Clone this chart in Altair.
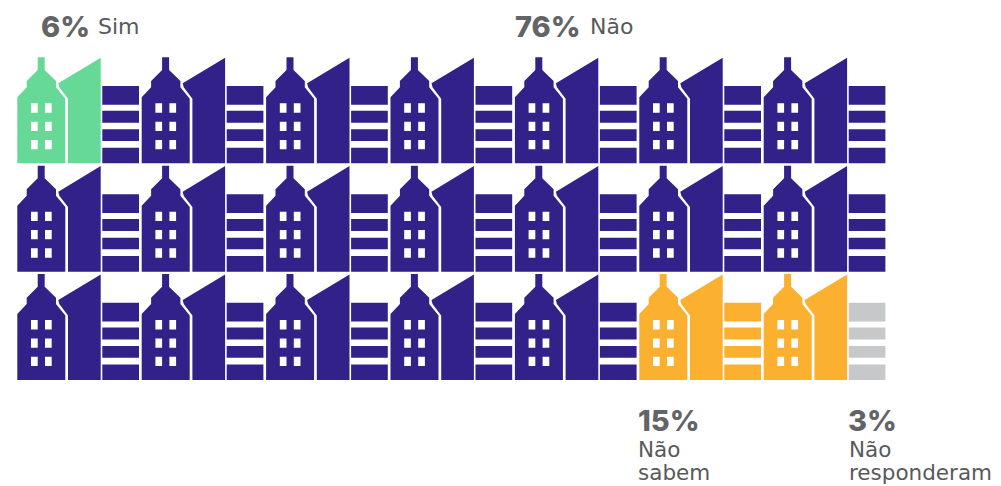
import altair as alt
import pandas as pd

# ---- data ----
categories = ["Sim", "Não", "Não sabem", "Não responderam"]
piece_counts = [2, 55, 5, 1]          # building pieces per answer, in reading order
colors = ["#66D997", "#33218A", "#FBB030", "#C7C8CA"]
parts = ["casa", "torre", "faixas"]
n_rows = 3
n_cols = 7

labels_big = ["6%", "76%", "15%", "3%"]
labels_small = [["Sim"], ["Não"], ["Não", "sabem"], ["Não", "responderam"]]

# ---- glyph outlines (icon-local pixels, centred on the icon) ----
CX, CY = 60.9, 53.0


def poly(points):
    return "M" + "L".join(f"{x - CX:.2f},{y - CY:.2f}" for x, y in points) + "Z"


def rect(x0, y0, x1, y1):
    # counter-clockwise, so that inside an outline it makes a hole
    return poly([(x0, y0), (x0, y1), (x1, y1), (x1, y0)])


house = poly([(0, 106), (0, 40), (9.4, 30), (9.4, 23.7), (20.4, 12.7), (20.4, 0), (27.4, 0),
              (27.4, 12.7), (38.7, 23.7), (38.7, 30), (48, 41.4), (48, 106)])
for wy0, wy1 in [(46, 55.4), (64.4, 73.7), (82.7, 92)]:
    for wx0, wx1 in [(13.7, 20.4), (27.7, 34.4)]:
        house += rect(wx0, wy0, wx1, wy1)
tower = poly([(50.7, 106), (50.7, 41.4), (42, 30), (41, 26), (83.4, 0.4), (83.4, 106)])
stripes = "".join(rect(85, a, 121.7, b) for a, b in
                  [(28.7, 47.4), (53.4, 65.4), (72, 83.7), (90.4, 106)])
glyphs = [house, tower, stripes]

# ---- table ----
sequence = [c for c, n in zip(categories, piece_counts) for _ in range(n)]
rows = []
for i, cat in enumerate(sequence):
    r, rest = divmod(i, n_cols * len(parts))
    c, p = divmod(rest, len(parts))
    rows.append({"row": r, "col": c, "part": parts[p], "cat": cat})
df = pd.DataFrame(rows)

W, H = 985, 478
COL_STEP, ROW_STEP = 124.4, 108.35
X0, Y0 = 70.2, 102.3

icons = alt.Chart(df).mark_point(filled=True, opacity=1, size=4, strokeWidth=0).encode(
    x=alt.X("col:Q", axis=None,
            scale=alt.Scale(domain=[-X0 / COL_STEP, (W - X0) / COL_STEP], range=[0, W], nice=False, zero=False)),
    y=alt.Y("row:Q", axis=None,
            scale=alt.Scale(domain=[-Y0 / ROW_STEP, (H - Y0) / ROW_STEP], range=[0, H], nice=False, zero=False)),
    color=alt.Color("cat:N", legend=None, scale=alt.Scale(domain=categories, range=colors)),
    shape=alt.Shape("part:N", legend=None, scale=alt.Scale(domain=parts, range=glyphs)),
)

GREY_BIG = "#636466"
GREY_TXT = "#58595B"


def text(label, x, y, size, bold, line_height=None):
    props = dict(text=label, align="left", baseline="alphabetic", fontSize=size,
                 color=GREY_BIG if bold else GREY_TXT,
                 font="Inter" if bold else "DejaVu Sans")
    if bold:
        props["fontWeight"] = 800
    if line_height:
        props["lineHeight"] = line_height
    return alt.Chart(pd.DataFrame({"t": [str(label)]})).mark_text(**props).encode(
        x=alt.value(x - 8), y=alt.value(y - 8))


texts = [
    text(labels_big[0], 41, 37, 29, True),
    text(labels_small[0], 98, 34, 22, False),
    text(labels_big[1], 515, 37, 29, True),
    text(labels_small[1], 590, 34, 22, False),
    text(labels_big[2], 638, 431, 29, True),
    text(labels_small[2], 638, 456.5, 21.5, False, 23),
    text(labels_big[3], 848, 431, 29, True),
    text(labels_small[3], 849, 456.5, 21.5, False, 23),
]

chart = alt.layer(icons, *texts).properties(
    width=W, height=H, padding=0, autosize=alt.AutoSizeParams(type="none"),
    background="white",
).configure_view(stroke=None)

chart.save("out.html", embed_options={"renderer": "svg", "actions": False})
